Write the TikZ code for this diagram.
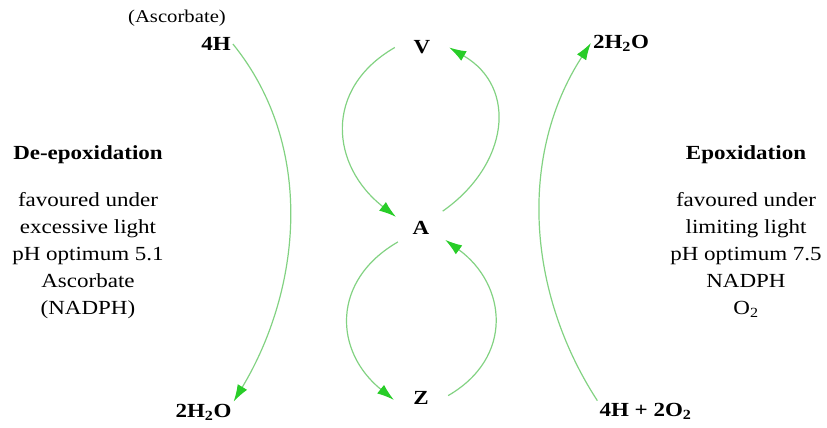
\documentclass[tikz,border=0pt]{standalone}
\usepackage{fontspec}
\setmainfont{Liberation Serif}[FakeStretch=1.15]
\usetikzlibrary{positioning}
\usetikzlibrary{arrows.meta}
\definecolor{arcgreen}{RGB}{130,210,130}
\definecolor{tipgreen}{RGB}{40,205,40}
\tikzset{
pigment/.style={circle, inner sep=0pt, minimum size=54pt, font=\fontsize{20}{24}\selectfont\bfseries},
species/.style={inner sep=2pt, font=\fontsize{20}{24}\selectfont\bfseries},
heading/.style={font=\fontsize{20}{24}\selectfont\bfseries},
conditions/.style={align=center, font=\fontsize{20}{27}\selectfont},
cycle_arrow/.style={draw=arcgreen, line width=1.2pt, -{Latex[length=17pt,width=11pt,color=tipgreen]}}
}
\begin{document}
\begin{tikzpicture}[x=1pt, y=1pt]
    \useasboundingbox (0,0) rectangle (827,428);
    % xanthophyll pigments
    \node[pigment] (V) at (422,380.5) {V};
    \node[pigment] (A) at (421,200.5) {A};
    \node[pigment] (Z) at (421,30) {Z};
    % reactants and products
    \node[font=\fontsize{18}{22}\selectfont] (asc) at (177,410) {(Ascorbate)};
    \node[species] (h4) at (216,384) {4H};
    \node[species] (wl) at (203.5,16) {2H\textsubscript{2}O};
    \node[species] (wr) at (621,385) {2H\textsubscript{2}O};
    \node[species] (hr) at (645.5,17) {4H + 2O\textsubscript{2}};
    % side texts
    \node[heading] (deep_head) at (88,273) {De-epoxidation};
    \node[conditions] (deep_text) [below=21pt of deep_head] {favoured under\\ excessive light\\ pH optimum 5.1\\ Ascorbate\\ (NADPH)};
    \node[heading] (ep_head) at (746,273) {Epoxidation};
    \node[conditions] (ep_text) [below=21pt of ep_head] {favoured under\\ limiting light\\ pH optimum 7.5\\ NADPH\\ O\textsubscript{2}};
    % cycle
    \draw[cycle_arrow] (V.180) to[out=210, in=142, looseness=1.25] (A.157);
    \draw[cycle_arrow] (A.37) to[out=35, in=-30, looseness=1.25] (V.0);
    \draw[cycle_arrow] (A.212) to[out=210, in=141, looseness=1.25] (Z.184);
    \draw[cycle_arrow] (Z.5) to[out=30, in=-36, looseness=1.25] (A.-27);
    \draw[cycle_arrow] (h4.east) to[out=-51, in=59, looseness=0.94] (wl.north east);
    \draw[cycle_arrow] (hr.north west) to[out=123, in=-123, looseness=0.94] (wr.west);
\end{tikzpicture}
\end{document}
